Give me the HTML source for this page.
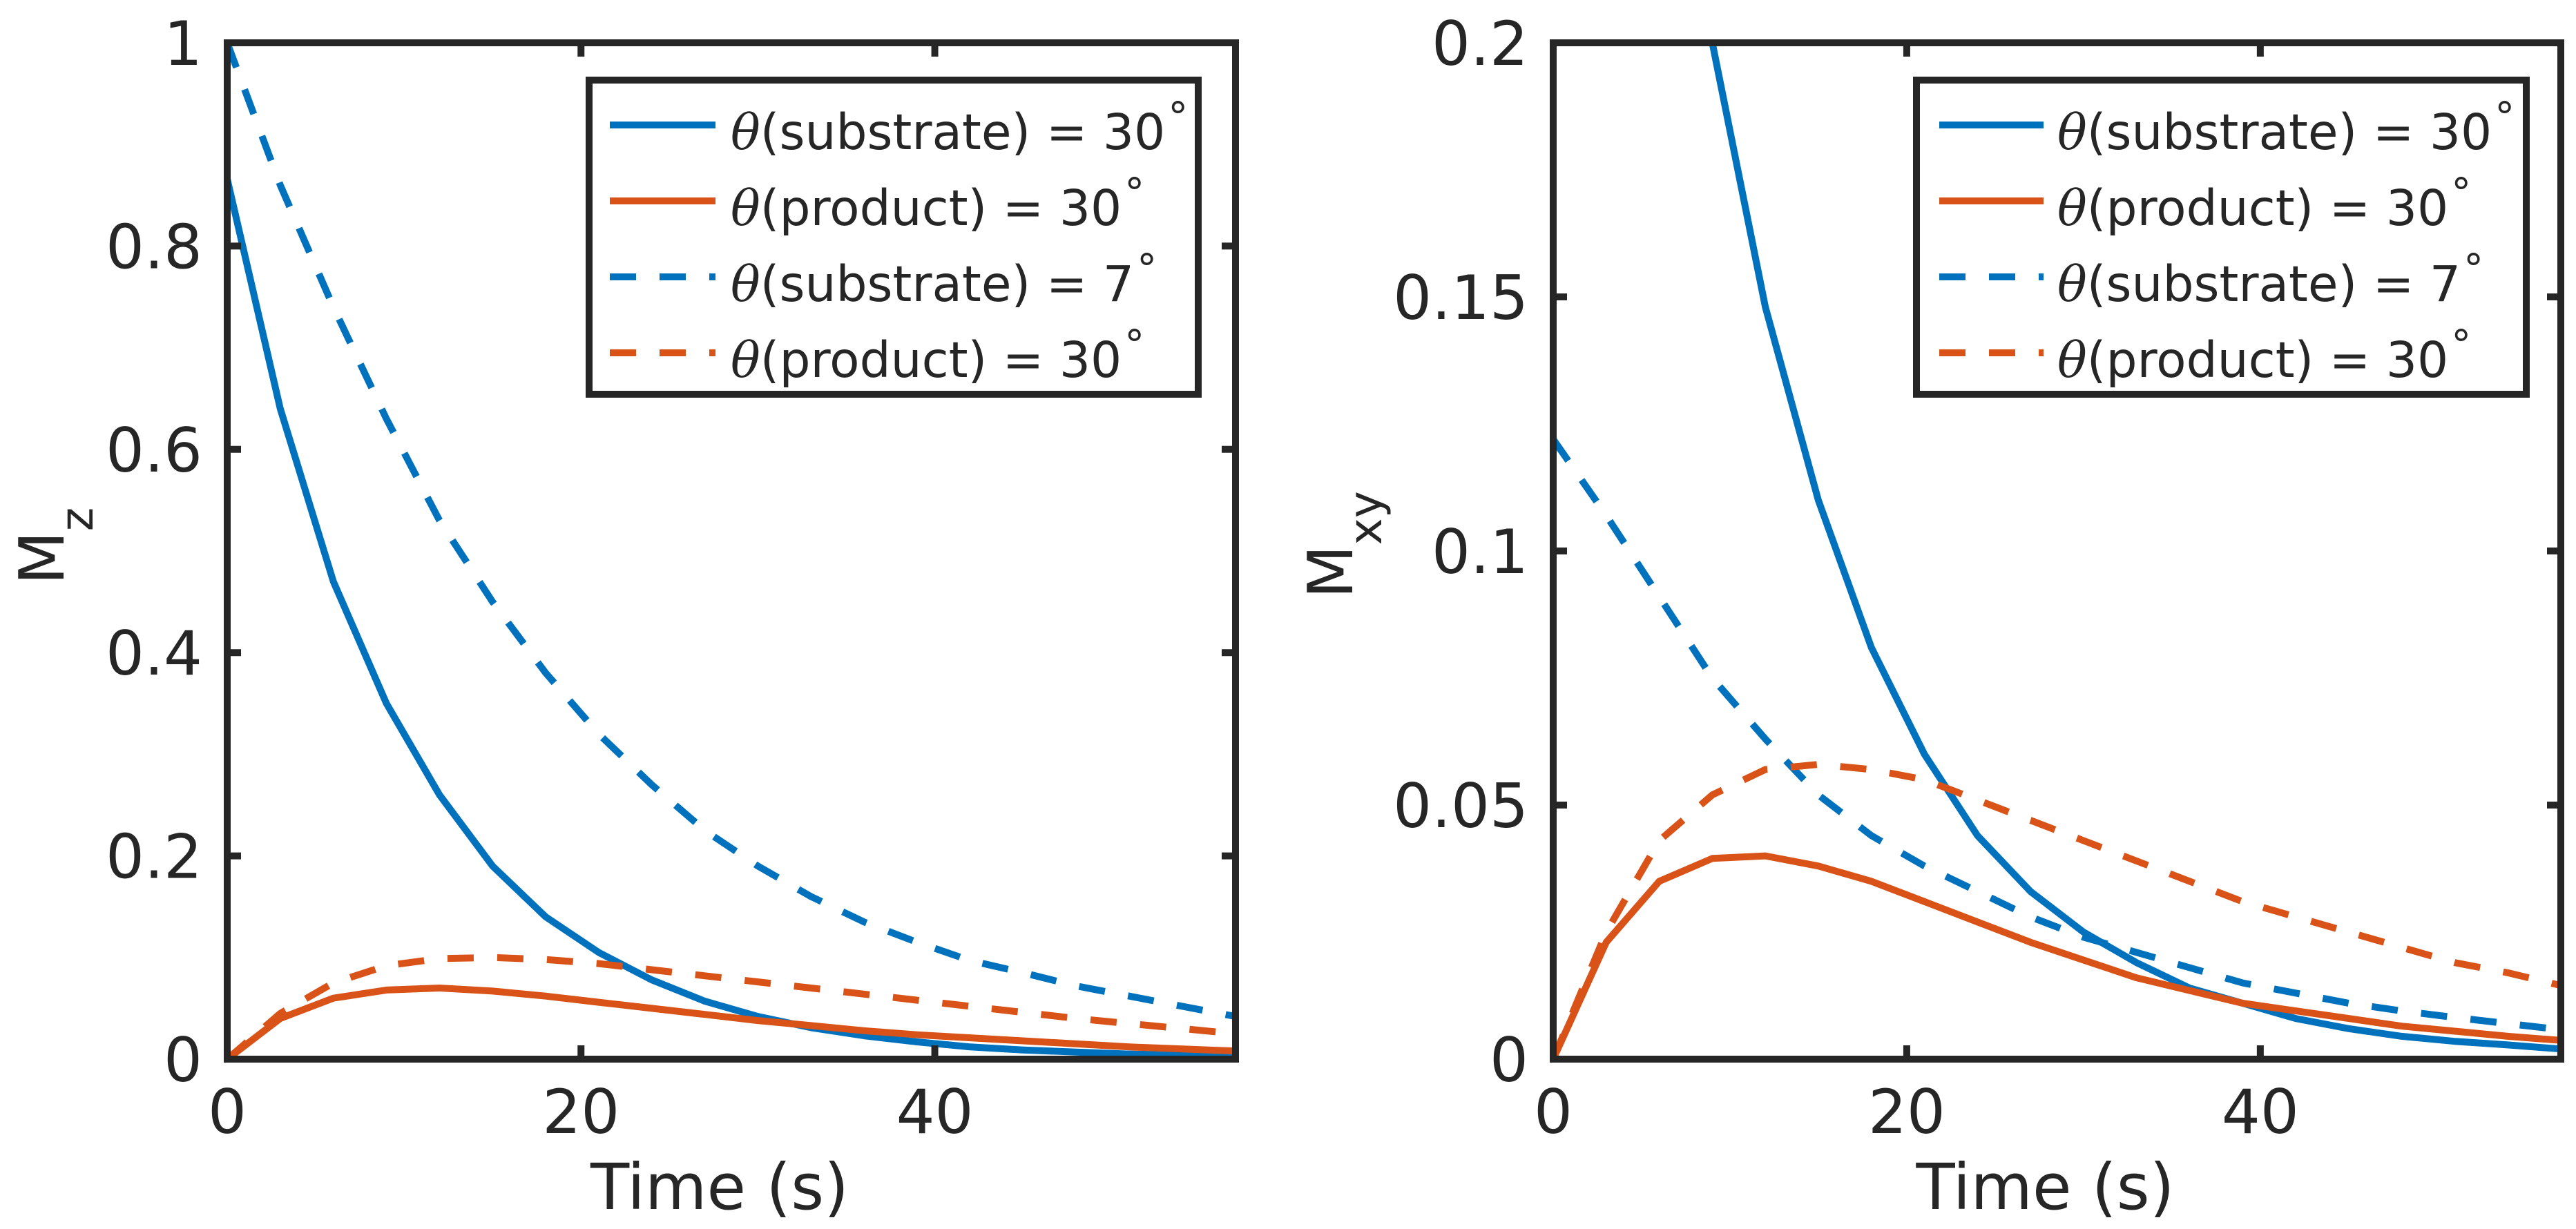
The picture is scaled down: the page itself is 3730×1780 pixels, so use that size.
<!DOCTYPE html>
<html><head><meta charset="utf-8">
<style>
html,body{margin:0;padding:0;background:#fff;}
svg{display:block;}
text{font-family:"DejaVu Sans","Liberation Sans",sans-serif;fill:#262626;}
</style></head>
<body>
<svg id="fig" width="3730" height="1780" viewBox="0 0 3730 1780" xmlns="http://www.w3.org/2000/svg">
<rect x="0" y="0" width="3730" height="1780" fill="#fff"/>
</svg>
<script>
const timeValues = [0,3,6,9,12,15,18,21,24,27,30,33,36,39,42,45,48,51,54,57];
const mzSubstrate30 = [0.866,0.64,0.47,0.35,0.26,0.19,0.14,0.105,0.078,0.057,0.042,0.031,0.023,0.017,0.012,0.009,0.007,0.005,0.004,0.003];
const mzProduct30 = [0,0.04,0.06,0.068,0.07,0.067,0.062,0.056,0.05,0.044,0.038,0.033,0.028,0.024,0.021,0.018,0.015,0.012,0.01,0.008];
const mzSubstrate7 = [1,0.86,0.74,0.63,0.53,0.45,0.38,0.32,0.27,0.225,0.19,0.16,0.135,0.115,0.097,0.085,0.072,0.062,0.052,0.042];
const mzProduct30b = [0,0.045,0.075,0.092,0.099,0.1,0.098,0.094,0.088,0.082,0.076,0.07,0.064,0.058,0.052,0.046,0.04,0.035,0.03,0.025];
const mxySubstrate30 = [0.5,0.37,0.27,0.2,0.148,0.11,0.081,0.06,0.044,0.033,0.025,0.019,0.014,0.011,0.008,0.006,0.0045,0.0035,0.0028,0.002];
const mxyProduct30 = [0,0.023,0.035,0.0395,0.04,0.038,0.035,0.031,0.027,0.023,0.0195,0.016,0.0135,0.011,0.0095,0.008,0.0065,0.0055,0.0045,0.0037];
const mxySubstrate7 = [0.122,0.107,0.091,0.075,0.063,0.052,0.044,0.038,0.033,0.028,0.024,0.021,0.018,0.015,0.013,0.011,0.0095,0.0082,0.007,0.0058];
const mxyProduct30b = [0,0.025,0.043,0.052,0.057,0.058,0.057,0.055,0.051,0.047,0.043,0.039,0.035,0.031,0.028,0.025,0.022,0.019,0.017,0.0145];
const xTicks = [0,20,40];
const leftYTicks = [0,0.2,0.4,0.6,0.8,1];
const leftYTickLabels = ["0","0.2","0.4","0.6","0.8","1"];
const rightYTicks = [0,0.05,0.1,0.15,0.2];
const rightYTickLabels = ["0","0.05","0.1","0.15","0.2"];
const legendLabels = ["(substrate) = 30","(product) = 30","(substrate) = 7","(product) = 30"];

const NS="http://www.w3.org/2000/svg";
const svg=document.getElementById('fig');
const BLUE="#0072BD", ORANGE="#D95319", AX="#262626";
function mk(tag,attrs,parent){const e=document.createElementNS(NS,tag);for(const k in attrs)e.setAttribute(k,attrs[k]);(parent||svg).appendChild(e);return e;}

function drawPanel(p){
  const g=mk('g',{});
  
  
  const xS=v=>p.x0+(v-0)/(57-0)*(p.x1-p.x0);
  const yS=v=>p.y1-(v-p.ymin)/(p.ymax-p.ymin)*(p.y1-p.y0);
  const cid='clip-'+p.name;
  const cp=mk('clipPath',{id:cid},g);
  mk('rect',{x:p.x0,y:p.y0,width:p.x1-p.x0,height:p.y1-p.y0},cp);
  const lg=mk('g',{'clip-path':'url(#'+cid+')'},g);
  p.series.forEach(s=>{
    const d=timeValues.map((t,i)=>(i?'L':'M')+xS(t).toFixed(1)+' '+yS(s.vals[i]).toFixed(1)).join(' ');
    const path=mk('path',{d:d,fill:'none',stroke:s.color,'stroke-width':10,'stroke-linejoin':'round'},lg);
    if(s.dash) path.setAttribute('stroke-dasharray','38 34');
    
    
  });
  const box=mk('rect',{x:p.x0,y:p.y0,width:p.x1-p.x0,height:p.y1-p.y0,fill:'none',stroke:AX,'stroke-width':10},g);
  
  
  xTicks.forEach(t=>{
    const x=xS(t);
    mk('line',{x1:x,y1:p.y1,x2:x,y2:p.y1-20,stroke:AX,'stroke-width':10},g);
    mk('line',{x1:x,y1:p.y0,x2:x,y2:p.y0+20,stroke:AX,'stroke-width':10},g);
    const tx=mk('text',{x:x,y:1641,'font-size':88,'text-anchor':'middle'},g);
    tx.textContent=String(t);
    
    
  });
  p.yTicks.forEach((t,i)=>{
    const y=yS(t);
    mk('line',{x1:p.x0,y1:y,x2:p.x0+20,y2:y,stroke:AX,'stroke-width':10},g);
    mk('line',{x1:p.x1,y1:y,x2:p.x1-20,y2:y,stroke:AX,'stroke-width':10},g);
    const tx=mk('text',{x:p.x0-36,y:y+32,'font-size':88,'text-anchor':'end'},g);
    tx.textContent=p.yLabels[i];
    
    
  });
  const xl=mk('text',{x:(p.x0+p.x1)/2-17,y:1751,'font-size':92,'text-anchor':'middle'},g);
  xl.textContent='Time (s)';
  
  
  const yl=mk('text',{transform:'translate('+p.ylx+','+p.yly+') rotate(-90)','font-size':90},g);
  
  
  const m=mk('tspan',{},yl); m.textContent='M';
  const sub=mk('tspan',{dy:42,'font-size':66},yl); sub.textContent=p.sub;
  const L=p.leg;
  const lb=mk('rect',{x:L.x0,y:116,width:L.x1-L.x0,height:455,fill:'#fff',stroke:AX,'stroke-width':10},g);
  
  
  p.series.forEach((s,i)=>{
    const ly=181+i*110;
    const ll=mk('line',{x1:L.lx0,y1:ly,x2:L.lx1,y2:ly,stroke:s.color,'stroke-width':10},g);
    if(s.dash) ll.setAttribute('stroke-dasharray','38 34');
    
    
    const tx=mk('text',{x:L.tx,y:ly+35,'font-size':71},g);
    
    
    const th=mk('tspan',{'font-style':'italic','font-family':'DejaVu Serif, serif'},tx); th.textContent='θ';
    const lab=mk('tspan',{},tx); lab.textContent=legendLabels[i];
    let w=0; try{w=tx.getComputedTextLength();}catch(e){w=560;}
    const deg=mk('text',{x:L.tx+w+4,y:ly+8,'font-size':58},g);
    deg.textContent='°';
    
    
  });
}

drawPanel({name:'mz-panel',x0:329,x1:1789,y0:62,y1:1534,ymin:0,ymax:1,yTicks:leftYTicks,yLabels:leftYTickLabels,
  ylx:92,yly:847,sub:'z',leg:{x0:853,x1:1735,lx0:883,lx1:1036,tx:1058},
  series:[{name:'mz-substrate-30',vals:mzSubstrate30,color:BLUE,dash:false},
          {name:'mz-product-30',vals:mzProduct30,color:ORANGE,dash:false},
          {name:'mz-substrate-7',vals:mzSubstrate7,color:BLUE,dash:true},
          {name:'mz-product-30-dashed',vals:mzProduct30b,color:ORANGE,dash:true}]});
drawPanel({name:'mxy-panel',x0:2249,x1:3708,y0:62,y1:1534,ymin:0,ymax:0.2,yTicks:rightYTicks,yLabels:rightYTickLabels,
  ylx:1958,yly:867,sub:'xy',leg:{x0:2775,x1:3658,lx0:2808,lx1:2959,tx:2979},
  series:[{name:'mxy-substrate-30',vals:mxySubstrate30,color:BLUE,dash:false},
          {name:'mxy-product-30',vals:mxyProduct30,color:ORANGE,dash:false},
          {name:'mxy-substrate-7',vals:mxySubstrate7,color:BLUE,dash:true},
          {name:'mxy-product-30-dashed',vals:mxyProduct30b,color:ORANGE,dash:true}]});
</script>
</body></html>
